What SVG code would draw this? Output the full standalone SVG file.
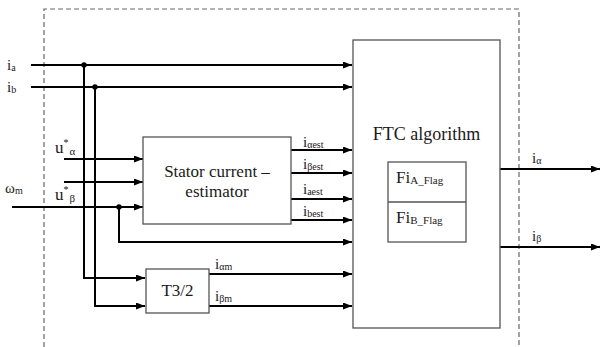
<svg xmlns="http://www.w3.org/2000/svg" width="600" height="347" viewBox="0 0 600 347">
<style>
.box{fill:#fff;stroke:#555;stroke-width:1.3}
.wire{fill:none;stroke:#000;stroke-width:2}
.dash{fill:none;stroke:#666;stroke-width:1.2;stroke-dasharray:5 3}
.t{font-family:"Liberation Serif";fill:#1a1a1a}
.lbl{font-size:15px}
.sub{font-size:10px}
.big{font-size:17px}
</style>
<defs>
<marker id="arr" markerUnits="userSpaceOnUse" markerWidth="10" markerHeight="8" refX="9" refY="3.5" orient="auto">
<path d="M0,0 L9,3.5 L0,7 z" fill="#000"/>
</marker>
</defs>
<rect width="600" height="347" fill="#fff"/>
<path class="dash" d="M44,347 V9 H519 V347"/>

<g id="connectors">
<path class="wire" d="M31,65 H352" marker-end="url(#arr)"/>
<path class="wire" d="M31,87 H352" marker-end="url(#arr)"/>
<path class="wire" d="M64,159 H143" marker-end="url(#arr)"/>
<path class="wire" d="M64,182 H143" marker-end="url(#arr)"/>
<path class="wire" d="M12,207 H143" marker-end="url(#arr)"/>
<path class="wire" d="M84,65 V278 H145" marker-end="url(#arr)"/>
<path class="wire" d="M95,87 V306 H145" marker-end="url(#arr)"/>
<path class="wire" d="M119,207 V242 H352" marker-end="url(#arr)"/>
<path class="wire" d="M291,150 H352" marker-end="url(#arr)"/>
<path class="wire" d="M291,173 H352" marker-end="url(#arr)"/>
<path class="wire" d="M291,199 H352" marker-end="url(#arr)"/>
<path class="wire" d="M291,220 H352" marker-end="url(#arr)"/>
<path class="wire" d="M209,274 H352" marker-end="url(#arr)"/>
<path class="wire" d="M209,306 H352" marker-end="url(#arr)"/>
<path class="wire" d="M500,169 H600" marker-end="url(#arr)"/>
<path class="wire" d="M500,247 H600" marker-end="url(#arr)"/>
<circle cx="84" cy="65" r="2.7" fill="#000"/>
<circle cx="95" cy="87" r="2.7" fill="#000"/>
<circle cx="119" cy="207" r="2.7" fill="#000"/>
</g>

<g id="inputs">
<text x="7" y="70" class="t lbl">i<tspan class="sub" dy="1">a</tspan></text>
<text x="7" y="92" class="t lbl">i<tspan class="sub" dy="1">b</tspan></text>
<text x="55" y="153" class="t big">u<tspan font-size="10" dy="-7">*</tspan><tspan font-size="11" dy="9" dx="1">α</tspan></text>
<text x="55" y="200" class="t big">u<tspan font-size="10" dy="-7">*</tspan><tspan font-size="11" dy="9" dx="1">β</tspan></text>
<text x="5" y="193" class="t lbl">ω<tspan class="sub" dy="1">m</tspan></text>
</g>

<g id="estimator">
<rect class="box" x="143" y="137" width="148" height="87"/>
<text x="217" y="177" class="t big" text-anchor="middle">Stator current –</text>
<text x="217" y="197" class="t big" text-anchor="middle">estimator</text>
<text x="303" y="147" class="t lbl">i<tspan class="sub" dy="1">αest</tspan></text>
<text x="303" y="169" class="t lbl">i<tspan class="sub" dy="1">βest</tspan></text>
<text x="303" y="194" class="t lbl">i<tspan class="sub" dy="1">aest</tspan></text>
<text x="303" y="216" class="t lbl">i<tspan class="sub" dy="1">best</tspan></text>
</g>

<g id="t32">
<rect class="box" x="146" y="269" width="63" height="44"/>
<text x="177.5" y="296" class="t big" text-anchor="middle">T3/2</text>
<text x="215" y="269" class="t lbl">i<tspan class="sub" dy="1">αm</tspan></text>
<text x="215" y="301" class="t lbl">i<tspan class="sub" dy="1">βm</tspan></text>
</g>

<g id="ftc">
<rect class="box" x="353" y="40" width="147" height="288"/>
<text x="426.5" y="140" font-size="18" class="t" text-anchor="middle">FTC algorithm</text>
<rect class="box" x="388" y="162" width="78" height="80"/>
<line x1="388" y1="202" x2="466" y2="202" stroke="#555" stroke-width="1.3"/>
<text x="396" y="183" class="t big">Fi<tspan font-size="11" dy="1">A_Flag</tspan></text>
<text x="396" y="223" class="t big">Fi<tspan font-size="11" dy="1">B_Flag</tspan></text>
</g>

<g id="outputs">
<text x="532" y="163" class="t lbl">i<tspan class="sub" dy="1">α</tspan></text>
<text x="532" y="241" class="t lbl">i<tspan class="sub" dy="1">β</tspan></text>
</g>
</svg>
